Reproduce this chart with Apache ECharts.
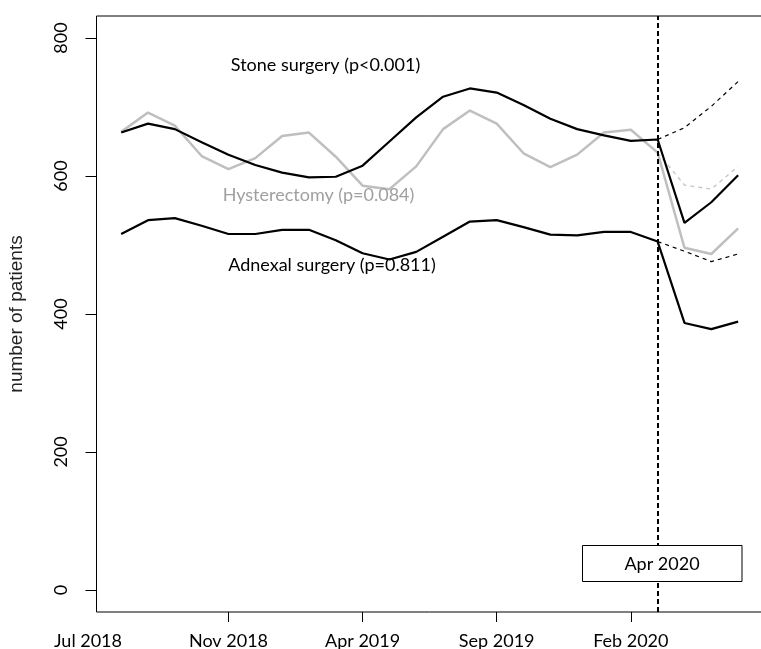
<!DOCTYPE html>
<html>
<head>
<meta charset="utf-8">
<script src="https://cdn.jsdelivr.net/npm/echarts@6/dist/echarts.min.js"></script>
<style>
html,body{margin:0;padding:0;background:#fff;}
#chart{width:761px;height:649px;}
</style>
</head>
<body>
<div id="chart"></div>
<script>
// month index 0..23 (observed), counterfactual from index 20
var monthIndex = [0,1,2,3,4,5,6,7,8,9,10,11,12,13,14,15,16,17,18,19,20,21,22,23];
var stone   = [663,676,668,649,631,616,605,598,599,615,650,685,715,727,721,703,683,668,659,651,653,532,562,601];
var hyst    = [664,692,673,629,610,626,658,663,628,586,581,614,668,695,676,633,613,631,663,667,634,496,487,524];
var adnexal = [516,536,539,528,516,516,522,522,507,488,479,490,512,534,536,526,515,514,519,519,505,387,378,389];
var cfIndex   = [20,21,22,23];
var stoneCF   = [653,670,701,737];
var hystCF    = [634,587,581,614];
var adnexalCF = [505,491,476,487];
var interventionIndex = 20;
var yTicks = [0,200,400,600,800];
var xTickPos = [4,9,14,19];
var xTickLabels = ['Nov 2018','Apr 2019','Sep 2019','Feb 2020'];
var firstLabel = 'Jul 2018';
var boxLabel = 'Apr 2020';
var labels = ['Stone surgery (p<0.001)','Hysterectomy (p=0.084)','Adnexal surgery (p=0.811)'];

function pairs(xs, ys){ return xs.map(function(x,i){ return [x, ys[i]]; }); }

var XMIN = -0.92, XMAX = 23.92;
var FONT = 'Lato';

var chart = echarts.init(document.getElementById('chart'), null, {renderer:'canvas'});
var option = {
  animation:false,
  backgroundColor:'#fff',
  grid:{left:96.5, top:16, width:666.3, height:596, show:true, borderColor:'#000', borderWidth:1, backgroundColor:'transparent', outerBoundsMode:'none', containLabel:false},
  xAxis:{
    type:'value', min:XMIN, max:XMAX,
    axisLine:{show:false, onZero:false},
    splitLine:{show:false},
    axisTick:{show:true, customValues:xTickPos, length:10, lineStyle:{color:'#000', width:1}},
    axisLabel:{
      show:true,
      customValues:[XMIN].concat(xTickPos),
      margin:20,
      color:'#000', fontFamily:FONT, fontSize:18,
      formatter:function(v){
        if (Math.abs(v - XMIN) < 1e-6) return '{first|' + firstLabel + '}';
        var k = xTickPos.indexOf(Math.round(v));
        return k >= 0 ? xTickLabels[k] : '';
      },
      rich:{first:{fontFamily:FONT, fontSize:18, color:'#000', padding:[0,17,0,0]}}
    }
  },
  yAxis:{
    type:'value', min:-32, max:832,
    name:'number of patients', nameLocation:'middle', nameRotate:90, nameGap:70,
    nameTextStyle:{fontFamily:'Liberation Sans', fontSize:19, color:'#222'},
    axisLine:{show:false, onZero:false},
    splitLine:{show:false},
    axisTick:{show:true, customValues:yTicks, length:11, lineStyle:{color:'#000', width:1}},
    axisLabel:{show:true, customValues:yTicks, rotate:90, margin:26, color:'#000', fontFamily:FONT, fontSize:18}
  },
  series:[
    {type:'line', name:'Hysterectomy', data:pairs(monthIndex, hyst), symbol:'none', lineStyle:{color:'#bfbfbf', width:2.5}, z:2},
    {type:'line', name:'Hysterectomy CF', data:pairs(cfIndex, hystCF), symbol:'none', lineStyle:{color:'#c4c4c4', width:1.3, type:[4,4]}, z:1},
    {type:'line', name:'Stone CF', data:pairs(cfIndex, stoneCF), symbol:'none', lineStyle:{color:'#000', width:1.2, type:[4,4]}, z:1},
    {type:'line', name:'Adnexal CF', data:pairs(cfIndex, adnexalCF), symbol:'none', lineStyle:{color:'#000', width:1.2, type:[4,4]}, z:1},
    {type:'line', name:'Stone surgery', data:pairs(monthIndex, stone), symbol:'none', lineStyle:{color:'#000', width:2.2}, z:3},
    {type:'line', name:'Adnexal surgery', data:pairs(monthIndex, adnexal), symbol:'none', lineStyle:{color:'#000', width:2.2}, z:3,
      markLine:{silent:true, symbol:['none','none'], label:{show:false},
        lineStyle:{color:'#000', width:2, type:[5,3]},
        data:[{xAxis:interventionIndex}]}
    }
  ],
  graphic:[
    {type:'text', style:{text:labels[0], x:325.5, y:65, align:'center', verticalAlign:'middle', fontFamily:FONT, fontSize:18, fill:'#000'}, z:10},
    {type:'text', style:{text:labels[1], x:318.5, y:195, align:'center', verticalAlign:'middle', fontFamily:FONT, fontSize:18, fill:'#a0a0a0'}, z:10},
    {type:'text', style:{text:labels[2], x:332, y:265, align:'center', verticalAlign:'middle', fontFamily:FONT, fontSize:18, fill:'#000'}, z:10},
    {type:'rect', shape:{x:582.5, y:545.5, width:159.5, height:36}, style:{fill:'#fff', stroke:'#000', lineWidth:1}, z:20},
    {type:'text', style:{text:boxLabel, x:662, y:564, align:'center', verticalAlign:'middle', fontFamily:FONT, fontSize:18, fill:'#000'}, z:21}
  ]
};
chart.setOption(option);
</script>
</body>
</html>
